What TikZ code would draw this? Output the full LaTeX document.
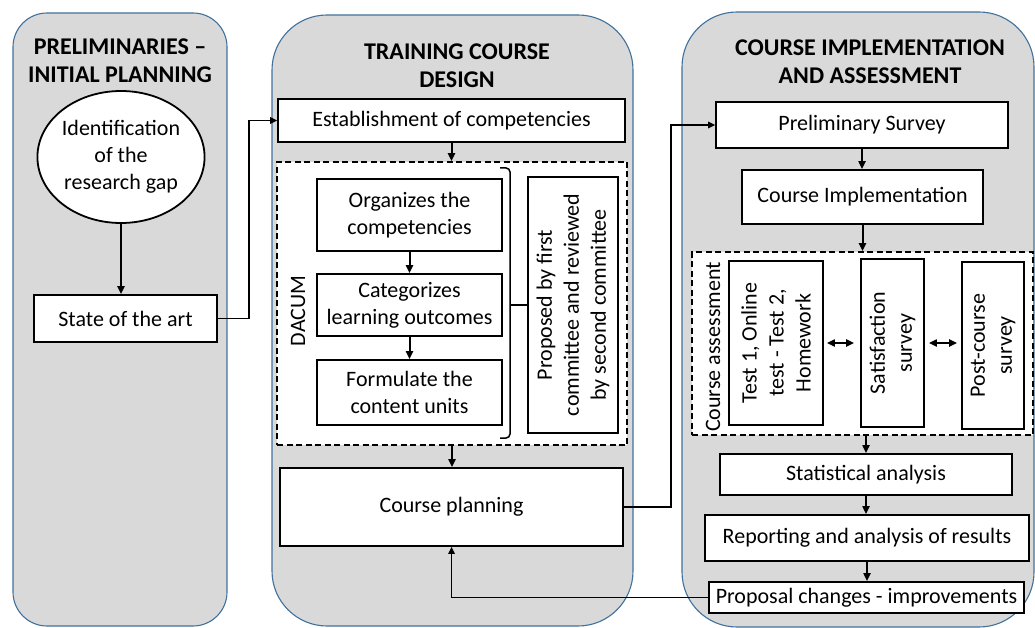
\documentclass[tikz,border=0pt]{standalone}
\usepackage{fontspec}
\setmainfont{Carlito}
\usepackage{xcolor}
\usetikzlibrary{shapes.geometric, arrows.meta, calc, positioning}
\definecolor{panelgray}{RGB}{217,217,217}
\definecolor{panelblue}{RGB}{65,113,156}

\begin{document}
\begin{tikzpicture}[x=1pt, y=-1pt, font=\fontsize{22}{27}\selectfont]
        \tikzstyle{panel}=[fill=panelgray, draw=panelblue, line width=1.1pt]
        \tikzstyle{title}=[font=\fontsize{24}{28}\selectfont\bfseries, align=center]
        \tikzstyle{box}=[draw, fill=white, line width=1.8pt, align=center, inner sep=2pt]
        \tikzstyle{group}=[draw, fill=white, line width=1.6pt, dash pattern=on 6pt off 3.5pt]
        \tikzstyle{flow}=[line width=2pt, -{Triangle[length=8pt,width=7pt]}]
        \tikzstyle{link}=[line width=1.4pt, -{Triangle[length=7pt,width=6.5pt]}]

        \useasboundingbox (0,0) rectangle (1035,628);

        % Background panels
        \draw[panel, rounded corners=34pt] (13,13) rectangle (227,626);
        \draw[panel, rounded corners=55pt] (272,15) rectangle (633,626);
        \draw[panel, rounded corners=55pt] (682,12) rectangle (1034,627);

        % Panel titles
        \node[title] (t1) at (120,61) {PRELIMINARIES –\\INITIAL PLANNING};
        \node[title] (t2) at (457,66) {TRAINING COURSE\\DESIGN};
        \node[title] (t3) at (870,62) {COURSE IMPLEMENTATION\\AND ASSESSMENT};

        % Preliminaries
        \node[box, ellipse, minimum width=140pt, minimum height=132pt, inner sep=0pt] (gap) at (121,157) {Identification\\of the\\research gap};
        \node[box, minimum width=183pt, minimum height=47pt] (state) at (125.5,318.5) {State of the art};

        % Training course design
        \node[box, minimum width=347pt, minimum height=43pt] (est) at (451.5,120.5) {Establishment of competencies};
        \node[group, minimum width=350pt, minimum height=283pt] (dacumgrp) at (452,303.5) {};
        \node[rotate=90] (dacum) at (298,311) {DACUM};
        \node[box, minimum width=185pt, minimum height=72pt] (org) at (409.5,215) {Organizes the\\competencies};
        \node[box, minimum width=185pt, minimum height=62pt] (cat) at (409.5,305) {Categorizes\\learning outcomes};
        \node[box, minimum width=185pt, minimum height=65pt] (form) at (409.5,392.5) {Formulate the\\content units};
        \node[box, rotate=90, minimum width=256pt, minimum height=90pt] (prop) at (573,305) {Proposed by first\\committee and reviewed\\by second committee};
        \node[box, minimum width=343pt, minimum height=78pt] (plan) at (451.5,507) {Course planning};

        % Bracket joining the DACUM steps to the committees
        \coordinate (brtop) at (500,168);
        \coordinate (brbot) at (500,438);
        \coordinate (brmid) at (510,305);
        \draw[line width=1.5pt, rounded corners=4pt] (brtop) -| (brmid) |- (brbot);
        \draw[line width=1.5pt] (brmid) -- (prop.north);

        % Course implementation and assessment
        \node[box, minimum width=292pt, minimum height=46pt] (pre) at (862,125) {Preliminary Survey};
        \node[box, minimum width=241pt, minimum height=54pt] (impl) at (862.5,197) {Course Implementation};
        \node[group, minimum width=341pt, minimum height=183pt] (assessgrp) at (862.5,343.5) {};
        \node[rotate=90] (assess) at (713,347) {Course assessment};
        \node[box, rotate=90, minimum width=164pt, minimum height=94pt] (test) at (776,343) {Test 1, Online\\test - Test 2,\\Homework};
        \node[box, rotate=90, minimum width=168pt, minimum height=63pt] (sat) at (892.5,343) {Satisfaction\\survey};
        \node[box, rotate=90, minimum width=167pt, minimum height=62pt] (post) at (993,345.5) {Post-course\\survey};
        \node[box, minimum width=292pt, minimum height=41pt] (stat) at (866,474.5) {Statistical analysis};
        \node[box, minimum width=324pt, minimum height=46pt] (rep) at (867,538) {Reporting and analysis of results};
        \node[box, minimum width=315pt, minimum height=31pt, inner sep=0pt] (change) at (866.5,597.5) {Proposal changes - improvements};

        % Vertical flow
        \draw[flow, line width=2.4pt] (gap.south) -- (gap.south |- state.north);
        \draw[flow] (est.south) -- (est.south |- dacumgrp.north);
        \draw[flow] (org.south) -- (cat.north);
        \draw[flow] (cat.south) -- (form.north);
        \draw[flow] (dacumgrp.south) -- (dacumgrp.south |- plan.north);
        \draw[flow] (pre.south) -- (pre.south |- impl.north);
        \draw[flow] (impl.south) -- (impl.south |- assessgrp.north);
        \draw[flow] (assessgrp.south -| stat.north) -- (stat.north);
        \draw[flow] (stat.south) -- (stat.south |- rep.north);
        \draw[flow] (rep.south) -- (rep.south |- change.north);

        % Links between the surveys
        \draw[flow, {Triangle[length=8pt,width=7pt]}-{Triangle[length=8pt,width=7pt]}, shorten <=3pt, shorten >=6pt] (test.south) -- (test.south -| sat.north);
        \draw[flow, {Triangle[length=8pt,width=7pt]}-{Triangle[length=8pt,width=7pt]}, shorten <=4pt, shorten >=4pt] (sat.south) -- (sat.south -| post.north);

        % Links between the panels
        \draw[link] (state.east) -- ++(31,0) |- (est.west);
        \draw[link] (plan.east) -- ++(47,0) |- (pre.west);
        \draw[link] (change.west) -| (plan.south);
\end{tikzpicture}
\end{document}
